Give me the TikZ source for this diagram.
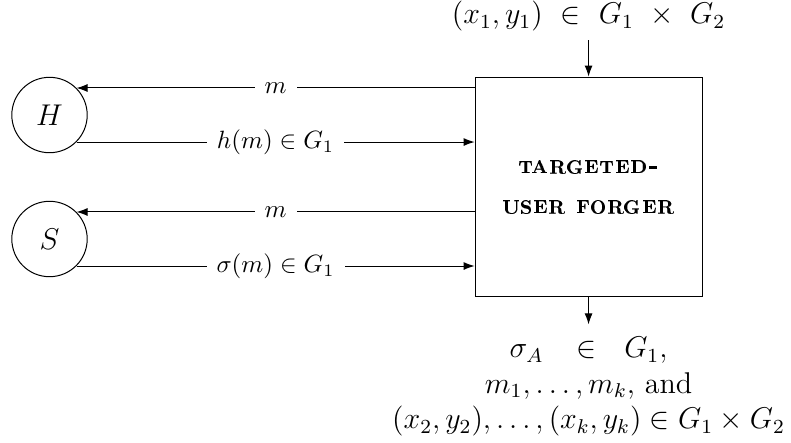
\documentclass[tikz,border=0pt]{standalone}
\usepackage[T1,TU]{fontenc}
\usepackage{amsmath,amssymb}
\usetikzlibrary{arrows.meta,positioning}
% bold extended small caps for the forger's name
\newcommand{\forgerfont}{\fontencoding{T1}\fontfamily{cmr}\fontseries{bx}\fontshape{sc}\selectfont}

\begin{document}
\begin{tikzpicture}[
    node distance=5.1mm,
    oracle/.style={draw, circle, minimum size=10.6mm, inner sep=0pt, font=\large},
    forger/.style={draw, minimum width=31.9mm, minimum height=30.9mm, align=center, font=\forgerfont},
    msg/.style={fill=white, inner sep=4pt},
    arrow/.style={-{Latex[length=4.4pt,width=3.2pt]}}
  ]
    \useasboundingbox (0,0) rectangle (11.12,-6.214);

    \node[oracle] (hash) at (0.696,-1.617) {$H$};
    \node[oracle] (sign) at (0.696,-3.360) {$S$};
    \node[forger] (adv) at (8.274,-2.629) {targeted-\\[4pt]user forger};
    \node[above=of adv, font=\large] (input) {$(x_1,y_1)\ \in\ G_1\ \times\ G_2$};
    \node[below=3.8mm of adv, align=center, inner ysep=5pt,
          font=\fontsize{12}{12.6}\selectfont] (output)
      {$\sigma_A\ \ \,\in\ \ G_1,$\\[1.6pt] $m_1,\ldots,m_k,$ and\\[1.6pt]
       $(x_2,y_2),\ldots,(x_k,y_k)\in G_1\times G_2$};

    % queries to the hash oracle
    \draw[arrow] (hash.45 -| adv.west) -- node[msg] {$m$} (hash.45);
    \draw[arrow] (hash.-45) -- node[msg] {$h(m)\in G_1$} (hash.-45 -| adv.west);
    % queries to the signing oracle
    \draw[arrow] (sign.45 -| adv.west) -- node[msg] {$m$} (sign.45);
    \draw[arrow] (sign.-45) -- node[msg] {$\sigma(m)\in G_1$} (sign.-45 -| adv.west);

    \draw[arrow] (input) -- (adv);
    \draw[arrow] (adv) -- (output);
\end{tikzpicture}
\end{document}
